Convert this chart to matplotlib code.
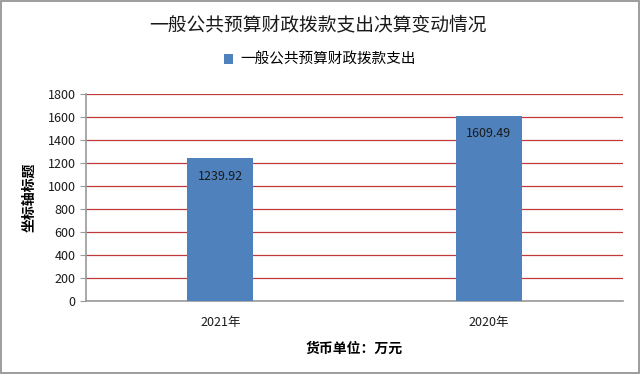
import matplotlib
matplotlib.use('Agg')
import matplotlib.pyplot as plt
from matplotlib.patches import Rectangle

plt.rcParams['font.family'] = ['Noto Sans CJK SC', 'DejaVu Sans']

# data
years = ['2021年', '2020年']
spending = [1239.92, 1609.49]
series_name = '一般公共预算财政拨款支出'
title = '一般公共预算财政拨款支出决算变动情况'
y_ticks = [0, 200, 400, 600, 800, 1000, 1200, 1400, 1600, 1800]

bar_color = '#4f81bd'
grid_color = '#c0393b'

fig = plt.figure(figsize=(6.4, 3.74), dpi=100)
ax = fig.add_axes([86 / 640, 1 - 301 / 374, 537 / 640, 207 / 374])

x = range(len(years))
bars = ax.bar(x, spending, width=0.245, color=bar_color, zorder=3,
              label=series_name)

# value labels placed just inside the top of each bar
for rect, val in zip(bars, spending):
    ax.annotate(f'{val:.2f}', (rect.get_x() + rect.get_width() / 2, val),
                xytext=(0, -13), textcoords='offset points', ha='center',
                va='center', fontsize=9, color='#1a1a1a', zorder=4)

ax.set_xlim(-0.5, len(years) - 0.5)
ax.set_ylim(0, 1800)
ax.set_yticks(y_ticks)
ax.set_xticks(list(x))
ax.set_xticklabels(years)
ax.tick_params(axis='both', labelsize=9, colors='#1a1a1a')
ax.tick_params(axis='y', length=4, color='#999999')
ax.tick_params(axis='x', length=0, pad=11)

ax.yaxis.grid(True, color=grid_color, linewidth=0.9, zorder=0)
for side in ['top', 'right']:
    ax.spines[side].set_visible(False)
for side in ['left', 'bottom']:
    ax.spines[side].set_color('#999999')
    ax.spines[side].set_linewidth(1.2)

ax.set_ylabel('坐标轴标题', fontsize=10, fontweight='bold', labelpad=8)
ax.set_xlabel('货币单位：万元', fontsize=10, fontweight='bold', labelpad=9)

fig.text(0.497, 1 - 25 / 374, title, ha='center', va='center',
         fontsize=13.5, color='#1a1a1a')
fig.legend(loc='center', bbox_to_anchor=(0.5, 1 - 60 / 374),
           frameon=False, fontsize=10.5, handlelength=0.6, handleheight=0.6,
           handletextpad=0.5)

# thin gray frame round the whole chart
fig.patches.append(Rectangle((0.002, 0.003), 0.996, 0.994,
                             transform=fig.transFigure, fill=False,
                             edgecolor='#8c8c8c', linewidth=1.2))

fig.savefig('out.png', dpi=100)
